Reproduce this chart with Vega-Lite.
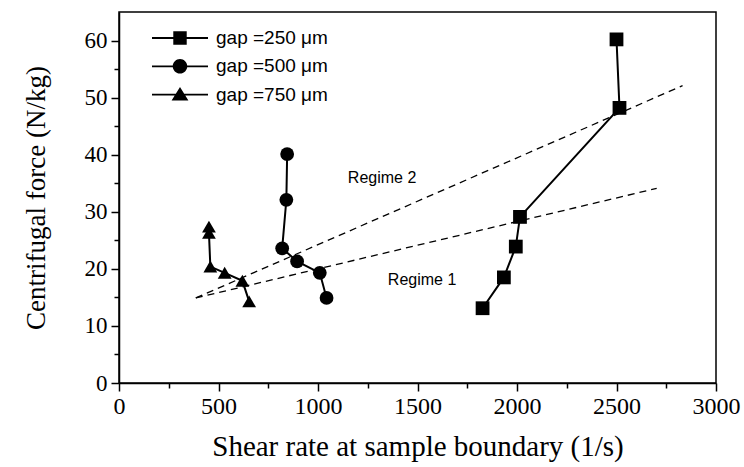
{
  "$schema": "https://vega.github.io/schema/vega-lite/v6.json",
  "width": 597,
  "height": 371,
  "autosize": {"type": "none"},
  "padding": {"left": 119, "top": 12, "right": 28, "bottom": 84},
  "background": "white",
  "config": {
    "view": {"stroke": "black", "strokeWidth": 1.5},
    "axis": {
      "grid": false,
      "domainColor": "black",
      "domainWidth": 1.5,
      "tickColor": "black",
      "tickWidth": 1.5,
      "labelFont": "Liberation Serif",
      "labelFontSize": 23,
      "labelColor": "black",
      "titleFont": "Liberation Serif",
      "titleFontSize": 27,
      "titleFontWeight": "normal",
      "titleColor": "black",
      "labelOverlap": false,
      "labelFlush": false,
      "labelBound": false
    }
  },
  "datasets": {
    "series": [
      {"gap": "250", "i": 1, "x": 1827, "y": 13.1},
      {"gap": "250", "i": 2, "x": 1934, "y": 18.5},
      {"gap": "250", "i": 3, "x": 1994, "y": 23.9},
      {"gap": "250", "i": 4, "x": 2015, "y": 29.1},
      {"gap": "250", "i": 5, "x": 2515, "y": 48.2},
      {"gap": "250", "i": 6, "x": 2500, "y": 60.2},
      {"gap": "500", "i": 1, "x": 1043, "y": 14.9},
      {"gap": "500", "i": 2, "x": 1009, "y": 19.3},
      {"gap": "500", "i": 3, "x": 895, "y": 21.3},
      {"gap": "500", "i": 4, "x": 820, "y": 23.6},
      {"gap": "500", "i": 5, "x": 841, "y": 32.1},
      {"gap": "500", "i": 6, "x": 845, "y": 40.1},
      {"gap": "750", "i": 1, "x": 654, "y": 14.3},
      {"gap": "750", "i": 2, "x": 620, "y": 17.9},
      {"gap": "750", "i": 3, "x": 531, "y": 19.3},
      {"gap": "750", "i": 4, "x": 459, "y": 20.4},
      {"gap": "750", "i": 5, "x": 452, "y": 26.3},
      {"gap": "750", "i": 6, "x": 452, "y": 27.4}
    ],
    "fits": [
      {"regime": "1", "x": 386, "y": 14.9},
      {"regime": "1", "x": 2702, "y": 34.1},
      {"regime": "2", "x": 386, "y": 14.9},
      {"regime": "2", "x": 2832, "y": 52.1}
    ],
    "labels": [
      {"text": "Regime 2", "x": 1150, "y": 36},
      {"text": "Regime 1", "x": 1351, "y": 18.1}
    ]
  },
  "encoding": {
    "x": {
      "field": "x",
      "type": "quantitative",
      "scale": {"domain": [0, 3000], "nice": false, "zero": false},
      "axis": {
        "title": "Shear rate at sample boundary (1/s)",
        "values": [0, 250, 500, 750, 1000, 1250, 1500, 1750, 2000, 2250, 2500, 2750, 3000],
        "format": "d",
        "labelExpr": "datum.value % 500 === 0 ? datum.label : ''",
        "tickSize": {"condition": {"test": "datum.value % 500 === 0", "value": 8}, "value": 5},
        "labelFontSize": 24,
        "labelPadding": 3,
        "titleFontSize": 29,
        "titlePadding": 14
      }
    },
    "y": {
      "field": "y",
      "type": "quantitative",
      "scale": {"domain": [0, 65], "nice": false, "zero": false},
      "axis": {
        "title": "Centrifugal force (N/kg)",
        "values": [0, 5, 10, 15, 20, 25, 30, 35, 40, 45, 50, 55, 60],
        "format": "d",
        "labelExpr": "datum.value % 10 === 0 ? datum.label : ''",
        "tickSize": {"condition": {"test": "datum.value % 10 === 0", "value": 8}, "value": 5},
        "labelPadding": 4,
        "titlePadding": 34
      }
    }
  },
  "layer": [
    {
      "data": {"name": "fits"},
      "mark": {"type": "line", "color": "black", "strokeWidth": 1.3, "strokeDash": [7, 5]},
      "encoding": {"detail": {"field": "regime", "type": "nominal"}}
    },
    {
      "data": {"name": "series"},
      "mark": {"type": "line", "color": "black", "strokeWidth": 2},
      "encoding": {
        "detail": {"field": "gap", "type": "nominal"},
        "order": {"field": "i", "type": "quantitative"}
      }
    },
    {
      "data": {"name": "series"},
      "mark": {"type": "point", "filled": true, "color": "black", "opacity": 1, "size": 190},
      "encoding": {
        "shape": {
          "field": "gap",
          "type": "nominal",
          "scale": {"domain": ["250", "500", "750"], "range": ["square", "circle", "triangle-up"]},
          "legend": null
        }
      }
    },
    {
      "data": {"name": "series"},
      "transform": [{"filter": "false"}],
      "mark": {"type": "point", "filled": true, "color": "black", "opacity": 1},
      "encoding": {
        "shape": {
          "field": "gap",
          "type": "nominal",
          "scale": {
            "domain": ["250", "500", "750"],
            "range": [
              "M-1,-0.032L1,-0.032L1,0.032L-1,0.032ZM-0.24,-0.24L0.24,-0.24L0.24,0.24L-0.24,0.24Z",
              "M-1,-0.032L1,-0.032L1,0.032L-1,0.032ZM-0.26,0A0.26,0.26,0,1,1,0.26,0A0.26,0.26,0,1,1,-0.26,0Z",
              "M-1,-0.032L1,-0.032L1,0.032L-1,0.032ZM0,-0.27L0.3,0.21L-0.3,0.21Z"
            ]
          },
          "legend": {
            "orient": "none",
            "legendX": 33,
            "legendY": 12,
            "title": null,
            "clipHeight": 28,
            "rowPadding": 0.3,
            "padding": 0,
            "symbolSize": 3136,
            "symbolStrokeWidth": 0,
            "symbolFillColor": "black",
            "symbolOpacity": 1,
            "labelFont": "Liberation Sans",
            "labelFontSize": 19,
            "labelColor": "black",
            "labelOffset": 8,
            "labelExpr": "'gap =' + datum.label + ' μm'"
          }
        }
      }
    },
    {
      "data": {"name": "labels"},
      "mark": {"type": "text", "align": "left", "baseline": "middle", "font": "Liberation Sans", "fontSize": 16, "color": "black"},
      "encoding": {"text": {"field": "text", "type": "nominal"}}
    }
  ],
  "resolve": {"scale": {"shape": "independent"}, "legend": {"shape": "independent"}}
}
